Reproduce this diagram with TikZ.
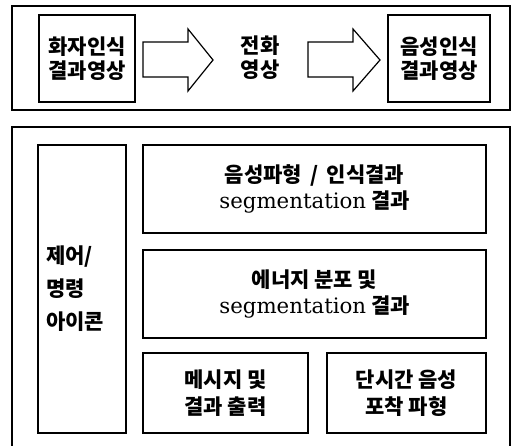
\documentclass[tikz,border=0pt]{standalone}
\usepackage{fontspec}
\newfontfamily\kr{Noto Sans CJK KR}
\newfontfamily\lat{DejaVu Serif}
\begin{document}
\begin{tikzpicture}[x=1pt,y=-1pt,
  box/.style={draw, line width=1.3pt, inner sep=0pt},
  outer/.style={draw, line width=1.1pt, inner sep=0pt},
  blockarrow/.style={draw, line width=1.2pt, line join=miter},
  krtext/.style={font=\kr\bfseries\fontsize{21}{24}\selectfont, align=center, inner sep=0pt},
]
\useasboundingbox (0,0) rectangle (513,446);
% top panel
\node[outer, minimum width=498pt, minimum height=104pt] (top) at (261,58) {};
\node[box, minimum width=96pt, minimum height=87pt] (spk) at (87,58.5) {};
\node[krtext] (spkt) at (spk.center) {화자인식\\결과영상};
\node[krtext] (mid) at (260,58) {전화\\영상};
\node[box, minimum width=102pt, minimum height=87pt] (asr) at (439,58.5) {};
\node[krtext] (asrt) at (asr.center) {음성인식\\결과영상};
\draw[blockarrow] (143,42) -- (188,42) -- (188,29) -- (213,60) -- (188,91) -- (188,77) -- (143,77) -- cycle;
\draw[blockarrow] (308,42) -- (353,42) -- (353,29) -- (380,60) -- (353,91) -- (353,77) -- (308,77) -- cycle;
% bottom panel
\draw[line width=1.1pt] (12,446) -- (12,127) -- (510,127) -- (510,446);
\node[box, minimum width=88pt, minimum height=288pt] (ctrl) at (82,289) {};
\node[font=\kr\bfseries\fontsize{21}{33}\selectfont, align=left, inner sep=0pt, anchor=west] (ctrlt) at (46,289) {제어/\\명령\\아이콘};
\node[box, minimum width=343pt, minimum height=88pt] (wave) at (314.5,189) {};
\node[krtext, font=\kr\bfseries\fontsize{21}{26}\selectfont] (wavet) at (wave.center) {음성파형 \,/\, 인식결과\\{\lat\mdseries\fontsize{21.3}{26}\selectfont segmentation} 결과};
\node[box, minimum width=343pt, minimum height=88pt] (energy) at (314.5,294) {};
\node[krtext, font=\kr\bfseries\fontsize{21}{26}\selectfont] (energyt) at (energy.center) {에너지 분포 및\\{\lat\mdseries\fontsize{21.3}{26}\selectfont segmentation} 결과};
\node[box, minimum width=165pt, minimum height=80pt] (msg) at (225.5,393) {};
\node[krtext, font=\kr\bfseries\fontsize{21}{27}\selectfont] (msgt) at (msg.center) {메시지 및\\결과 출력};
\node[box, minimum width=159pt, minimum height=80pt] (short) at (406.5,393) {};
\node[krtext, font=\kr\bfseries\fontsize{21}{27}\selectfont] (shortt) at (short.center) {단시간 음성\\포착 파형};
\end{tikzpicture}
\end{document}
